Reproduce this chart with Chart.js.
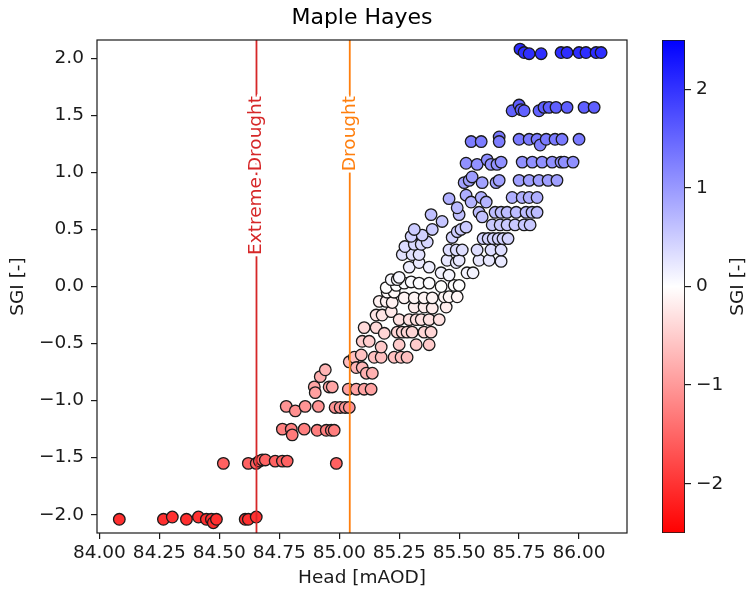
<!DOCTYPE html>
<html>
<head>
<meta charset="utf-8">
<title>Maple Hayes</title>
<script src="https://cdn.jsdelivr.net/npm/chart.js@4.4.0/dist/chart.umd.min.js"></script>
<style>
  html, body { margin: 0; padding: 0; background: #fff; }
  #wrap { position: relative; width: 748px; height: 596px; }
  #main { position: absolute; left: 0; top: 0; }
  #cbar { position: absolute; left: 640px; top: 0; }
</style>
</head>
<body>
<div id="wrap">
  <canvas id="main" width="748" height="596"></canvas>
  <canvas id="cbar" width="108" height="596"></canvas>
</div>
<script>
// Groundwater head vs standardised groundwater index, one line per SGI band
const head = [
  84.083, 84.267, 84.304, 84.363, 84.413, 84.446, 84.467, 84.475, 84.488, 84.608, 84.621, 84.654,
  84.517, 84.621, 84.654, 84.667, 84.679, 84.692, 84.733, 84.763, 84.783, 84.988,
  84.763, 84.800, 84.804, 84.854, 84.908, 84.946, 84.967, 84.979,
  84.779, 84.817, 84.858, 84.913, 84.983, 85.004, 85.025, 85.042,
  84.896, 84.900, 84.921, 84.942, 84.958, 84.971, 85.038, 85.071, 85.104, 85.133,
  85.042, 85.063, 85.092, 85.071, 85.096, 85.113, 85.138, 85.146, 85.175, 85.229, 85.258, 85.283, 85.096, 85.125, 85.175, 85.250, 85.321, 85.375,
  85.104, 85.154, 85.188, 85.242, 85.263, 85.283, 85.304, 85.354, 85.383, 85.154, 85.179, 85.217, 85.250, 85.292, 85.321, 85.342, 85.375, 85.417, 85.313, 85.354, 85.388, 85.446,
  85.167, 85.196, 85.221, 85.200, 85.229, 85.271, 85.313, 85.354, 85.388, 85.438, 85.458, 85.492, 85.196, 85.238, 85.271, 85.300, 85.333, 85.375, 85.425, 85.479, 85.500, 85.217, 85.242, 85.250,
  85.425, 85.458, 85.533, 85.558, 85.292, 85.333, 85.375, 85.263, 85.304, 85.333, 85.450, 85.488, 85.500, 85.583, 85.625, 85.675, 85.458, 85.488, 85.513, 85.575, 85.633, 85.675, 85.274,
  85.313, 85.342, 85.367, 85.300, 85.346, 85.313, 85.388, 85.471, 85.492, 85.508, 85.529, 85.600, 85.621, 85.642, 85.663, 85.683, 85.704, 85.638, 85.671, 85.700, 85.733, 85.771, 85.796,
  85.383, 85.429, 85.500, 85.492, 85.583, 85.596, 85.650, 85.675, 85.700, 85.738, 85.779, 85.804, 85.825, 85.458, 85.529, 85.550, 85.592, 85.613, 85.721, 85.763, 85.792, 85.825,
  85.521, 85.542, 85.554, 85.596, 85.654, 85.667, 85.750, 85.792, 85.833, 85.871, 85.908,
  85.529, 85.575, 85.617, 85.633, 85.658, 85.675, 85.763, 85.805, 85.846, 85.888, 85.925, 85.938, 85.975,
  85.550, 85.592, 85.667, 85.667, 85.750, 85.792, 85.825, 85.838, 85.863, 85.900, 85.929, 86.000,
  85.721, 85.750, 85.758, 85.771, 85.833, 85.854, 85.875, 85.904, 85.950, 86.021, 86.063,
  85.754, 85.771, 85.792, 85.842, 85.925, 85.950, 86.000, 86.029, 86.071, 86.092
];

const sgi = [
  -2.04, -2.04, -2.02, -2.04, -2.02, -2.04, -2.04, -2.07, -2.04, -2.04, -2.04, -2.02,
  -1.55, -1.55, -1.55, -1.53, -1.52, -1.52, -1.53, -1.53, -1.53, -1.55,
  -1.25, -1.25, -1.30, -1.25, -1.26, -1.26, -1.26, -1.26,
  -1.05, -1.09, -1.05, -1.05, -1.06, -1.06, -1.06, -1.06,
  -0.88, -0.93, -0.79, -0.73, -0.88, -0.88, -0.90, -0.90, -0.90, -0.90,
  -0.66, -0.62, -0.60, -0.71, -0.71, -0.76, -0.76, -0.62, -0.62, -0.62, -0.62, -0.62, -0.48, -0.48, -0.53, -0.51, -0.51, -0.51,
  -0.36, -0.36, -0.41, -0.40, -0.40, -0.40, -0.40, -0.40, -0.40, -0.25, -0.25, -0.22, -0.29, -0.29, -0.29, -0.29, -0.29, -0.29, -0.18, -0.18, -0.19, -0.18,
  -0.13, -0.13, -0.14, -0.05, -0.05, -0.10, -0.10, -0.10, -0.10, -0.09, -0.09, -0.09, -0.01, 0.01, 0.03, 0.04, 0.03, 0.03, 0.00, 0.01, 0.01, 0.06, 0.06, 0.08,
  0.12, 0.10, 0.12, 0.12, 0.17, 0.21, 0.17, 0.28, 0.28, 0.28, 0.23, 0.21, 0.23, 0.23, 0.23, 0.22, 0.32, 0.32, 0.32, 0.32, 0.32, 0.32, 0.35,
  0.37, 0.37, 0.39, 0.44, 0.45, 0.50, 0.50, 0.43, 0.48, 0.50, 0.52, 0.42, 0.42, 0.42, 0.42, 0.42, 0.42, 0.54, 0.54, 0.54, 0.54, 0.54, 0.54,
  0.63, 0.57, 0.63, 0.69, 0.65, 0.61, 0.65, 0.65, 0.65, 0.65, 0.65, 0.65, 0.65, 0.77, 0.80, 0.74, 0.78, 0.74, 0.78, 0.78, 0.78, 0.78,
  0.91, 0.93, 0.96, 0.91, 0.91, 0.93, 0.93, 0.93, 0.93, 0.93, 0.93,
  1.08, 1.07, 1.11, 1.07, 1.07, 1.09, 1.09, 1.09, 1.09, 1.09, 1.09, 1.09, 1.09,
  1.27, 1.27, 1.31, 1.27, 1.29, 1.29, 1.29, 1.24, 1.29, 1.29, 1.29, 1.29,
  1.54, 1.59, 1.55, 1.54, 1.54, 1.57, 1.57, 1.57, 1.57, 1.57, 1.57,
  2.08, 2.05, 2.04, 2.04, 2.05, 2.05, 2.05, 2.05, 2.05, 2.05
];

// drought thresholds on the head axis
const thresholdNames = ['Extreme Drought', 'Drought'];
const thresholdHead = [84.655, 85.044];
const thresholdColors = ['#d62728', '#ff7f0e'];
const thresholdLabelTop = 1.67;

const xTicks = [84.0, 84.25, 84.5, 84.75, 85.0, 85.25, 85.5, 85.75, 86.0];
const yTicks = [-2.0, -1.5, -1.0, -0.5, 0.0, 0.5, 1.0, 1.5, 2.0];
const cbarTicks = [-2, -1, 0, 1, 2];

const SGI_MIN = -2.5;
const SGI_MAX = 2.5;
const FONT = 'DejaVu Sans';
const TEXT_SIZE = 18.5;
const INK = '#1a1a1a';

// bwr_r: red -> white -> blue
function sgiColour(v) {
  let t = (v - SGI_MIN) / (SGI_MAX - SGI_MIN);
  t = Math.min(1, Math.max(0, t));
  let r, g, b;
  if (t < 0.5) {
    r = 255; g = b = Math.round(510 * t);
  } else {
    r = g = Math.round(510 * (1 - t)); b = 255;
  }
  return `rgb(${r},${g},${b})`;
}

const minus = (s) => s.replace('-', '\u2212');
const fixTicks = (list) => (scale) => { scale.ticks = list.map(v => ({ value: v })); };

const framePlugin = {
  id: 'frame',
  afterDatasetsDraw(chart) {
    const { ctx, chartArea: a } = chart;
    ctx.save();
    ctx.strokeStyle = INK;
    ctx.lineWidth = 1.2;
    ctx.strokeRect(a.left, a.top, a.width, a.height);
    ctx.restore();
  }
};

// rotated labels sitting on the threshold lines, white halo hides the line
const thresholdLabels = {
  id: 'thresholdLabels',
  afterDatasetsDraw(chart) {
    const { ctx, scales: { x, y } } = chart;
    ctx.save();
    ctx.font = `${TEXT_SIZE}px "${FONT}"`;
    ctx.textAlign = 'right';
    ctx.textBaseline = 'middle';
    ctx.lineJoin = 'round';
    thresholdHead.forEach((h, i) => {
      ctx.save();
      ctx.translate(x.getPixelForValue(h), y.getPixelForValue(thresholdLabelTop));
      ctx.rotate(-Math.PI / 2);
      ctx.strokeStyle = '#fff';
      ctx.lineWidth = 6;
      ctx.strokeText(thresholdNames[i], 0, 0);
      ctx.fillStyle = thresholdColors[i];
      ctx.fillText(thresholdNames[i], 0, 0);
      ctx.restore();
    });
    ctx.restore();
  }
};

const lineSets = thresholdHead.map((h, i) => ({
  label: thresholdNames[i],
  data: [{ x: h, y: -3 }, { x: h, y: 3 }],
  showLine: true,
  borderColor: thresholdColors[i],
  borderWidth: 1.8,
  pointRadius: 0,
  order: 1
}));

const tickFont = { family: FONT, size: TEXT_SIZE };

new Chart(document.getElementById('main'), {
  type: 'scatter',
  data: {
    datasets: [
      ...lineSets,
      {
        label: 'SGI',
        data: head.map((h, i) => ({ x: h, y: sgi[i] })),
        backgroundColor: (ctx) => sgiColour(ctx.raw ? ctx.raw.y : 0),
        borderColor: INK,
        borderWidth: 1.3,
        pointRadius: 5.8,
        order: 2
      }
    ]
  },
  options: {
    responsive: false,
    animation: false,
    layout: { padding: { left: 0, right: 121, top: 0, bottom: 0 } },
    plugins: {
      legend: { display: false },
      tooltip: { enabled: false },
      title: {
        display: true,
        text: 'Maple Hayes',
        fullSize: false,
        color: '#000',
        font: { family: FONT, size: 22, weight: 'normal' },
        padding: { top: 5, bottom: 8.6 }
      }
    },
    scales: {
      x: {
        type: 'linear',
        min: 83.99,
        max: 86.2,
        afterBuildTicks: fixTicks(xTicks),
        ticks: {
          callback: (v) => v.toFixed(2),
          color: INK,
          font: tickFont,
          padding: 3,
          maxRotation: 0,
          autoSkip: false
        },
        grid: { drawOnChartArea: false, tickLength: 6, color: INK, lineWidth: 1.2 },
        border: { display: false },
        title: {
          display: true,
          text: 'Head [mAOD]',
          color: INK,
          font: tickFont,
          padding: { top: 0, bottom: 7 }
        },
        afterFit: (s) => { s.height = 63; }
      },
      y: {
        min: -2.16,
        max: 2.16,
        afterBuildTicks: fixTicks(yTicks),
        ticks: {
          callback: (v) => minus((Math.round(v * 100) / 100).toFixed(1)),
          color: INK,
          font: tickFont,
          padding: 7
        },
        grid: { drawOnChartArea: false, tickLength: 6, color: INK, lineWidth: 1.2 },
        border: { display: false },
        title: {
          display: true,
          text: 'SGI [-]',
          color: INK,
          font: tickFont,
          padding: { top: 7, bottom: 0 }
        },
        afterFit: (s) => { s.width = 97; }
      }
    }
  },
  plugins: [framePlugin, thresholdLabels]
});

// colour bar: one floating bar spanning the SGI colour range
function cbarGradient(chart) {
  const y = chart.scales.y;
  if (!chart.chartArea || !y) return '#fff';
  const g = chart.ctx.createLinearGradient(0, y.getPixelForValue(SGI_MIN), 0, y.getPixelForValue(SGI_MAX));
  g.addColorStop(0, sgiColour(SGI_MIN));
  g.addColorStop(0.5, sgiColour(0));
  g.addColorStop(1, sgiColour(SGI_MAX));
  return g;
}

const cbarLabel = {
  id: 'cbarLabel',
  afterDraw(chart) {
    const { ctx, chartArea: a } = chart;
    ctx.save();
    ctx.translate(chart.width - 10, (a.top + a.bottom) / 2);
    ctx.rotate(-Math.PI / 2);
    ctx.font = `${TEXT_SIZE}px "${FONT}"`;
    ctx.fillStyle = INK;
    ctx.textAlign = 'center';
    ctx.textBaseline = 'middle';
    ctx.fillText('SGI [-]', 0, 0);
    ctx.restore();
  }
};

new Chart(document.getElementById('cbar'), {
  type: 'bar',
  data: {
    labels: ['SGI'],
    datasets: [{
      data: [[SGI_MIN, SGI_MAX]],
      backgroundColor: (ctx) => cbarGradient(ctx.chart),
      borderColor: INK,
      borderWidth: 1.2,
      borderSkipped: false,
      barPercentage: 1,
      categoryPercentage: 1
    }]
  },
  options: {
    responsive: false,
    animation: false,
    layout: { padding: { left: 22, right: 0, top: 40, bottom: 63 } },
    plugins: { legend: { display: false }, tooltip: { enabled: false } },
    scales: {
      x: { display: false },
      y: {
        position: 'right',
        min: SGI_MIN,
        max: SGI_MAX,
        afterBuildTicks: fixTicks(cbarTicks),
        ticks: {
          callback: (v) => minus(String(v)),
          color: INK,
          font: tickFont,
          padding: 5
        },
        grid: { drawOnChartArea: false, tickLength: 6, color: INK, lineWidth: 1.2 },
        border: { display: false },
        afterFit: (s) => { s.width = 63; }
      }
    }
  },
  plugins: [cbarLabel]
});
</script>
</body>
</html>
